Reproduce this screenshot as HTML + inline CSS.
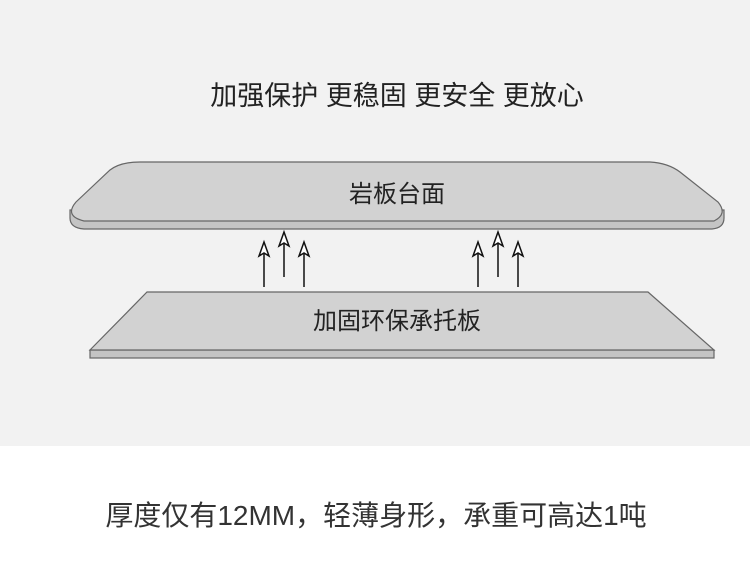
<!DOCTYPE html>
<html><head><meta charset="utf-8"><style>
body{margin:0;width:750px;height:561px;background:#fff;overflow:hidden;font-family:"Liberation Sans","Noto Sans CJK SC",sans-serif;}
</style></head><body>
<svg width="750" height="561" viewBox="0 0 750 561" xmlns="http://www.w3.org/2000/svg">
<rect x="0" y="0" width="750" height="446" fill="#f2f2f2"/>
<text x="397" y="105" font-size="27" text-anchor="middle" fill="#222" font-family="Liberation Sans, Noto Sans CJK SC, sans-serif">加强保护 更稳固 更安全 更放心</text>
<!-- top slab -->
<path d="M70 210 L70 218 Q70 228 84 229 L712 229 Q724 228 724 218 L724 210 Z" fill="#c4c4c4" stroke="#666" stroke-width="1.2"/>
<path d="M110 170 Q120 162 140 162 L650 162 Q668 163 680 172 L718 202 Q728 214 714 221 L84 221 Q64 216 76 202 Z" fill="#d2d2d2" stroke="#666" stroke-width="1.2"/>
<text x="397" y="202" font-size="24" text-anchor="middle" fill="#222" font-family="Liberation Sans, Noto Sans CJK SC, sans-serif">岩板台面</text>
<!-- arrows -->
<g stroke="#111" stroke-width="1.5" fill="#fff">
<line x1="264" y1="254" x2="264" y2="287"/><path d="M264 242 L259 256 L264 253 L269 256 Z"/>
<line x1="284" y1="244" x2="284" y2="277"/><path d="M284 232 L279 246 L284 243 L289 246 Z"/>
<line x1="304" y1="254" x2="304" y2="287"/><path d="M304 242 L299 256 L304 253 L309 256 Z"/>
<line x1="478" y1="254" x2="478" y2="287"/><path d="M478 242 L473 256 L478 253 L483 256 Z"/>
<line x1="498" y1="244" x2="498" y2="277"/><path d="M498 232 L493 246 L498 243 L503 246 Z"/>
<line x1="518" y1="254" x2="518" y2="287"/><path d="M518 242 L513 256 L518 253 L523 256 Z"/>
</g>
<!-- bottom plate -->
<rect x="90" y="350" width="624" height="8" fill="#c4c4c4" stroke="#666" stroke-width="1.2"/>
<path d="M147 292 L648 292 L714 350 L90 350 Z" fill="#d2d2d2" stroke="#666" stroke-width="1.2"/>
<text x="397" y="329" font-size="24" text-anchor="middle" fill="#222" font-family="Liberation Sans, Noto Sans CJK SC, sans-serif">加固环保承托板</text>
<text x="376" y="525" font-size="28" text-anchor="middle" fill="#333" font-family="Liberation Sans, Noto Sans CJK SC, sans-serif">厚度仅有12MM，轻薄身形，承重可高达1吨</text>
</svg>
</body></html>
